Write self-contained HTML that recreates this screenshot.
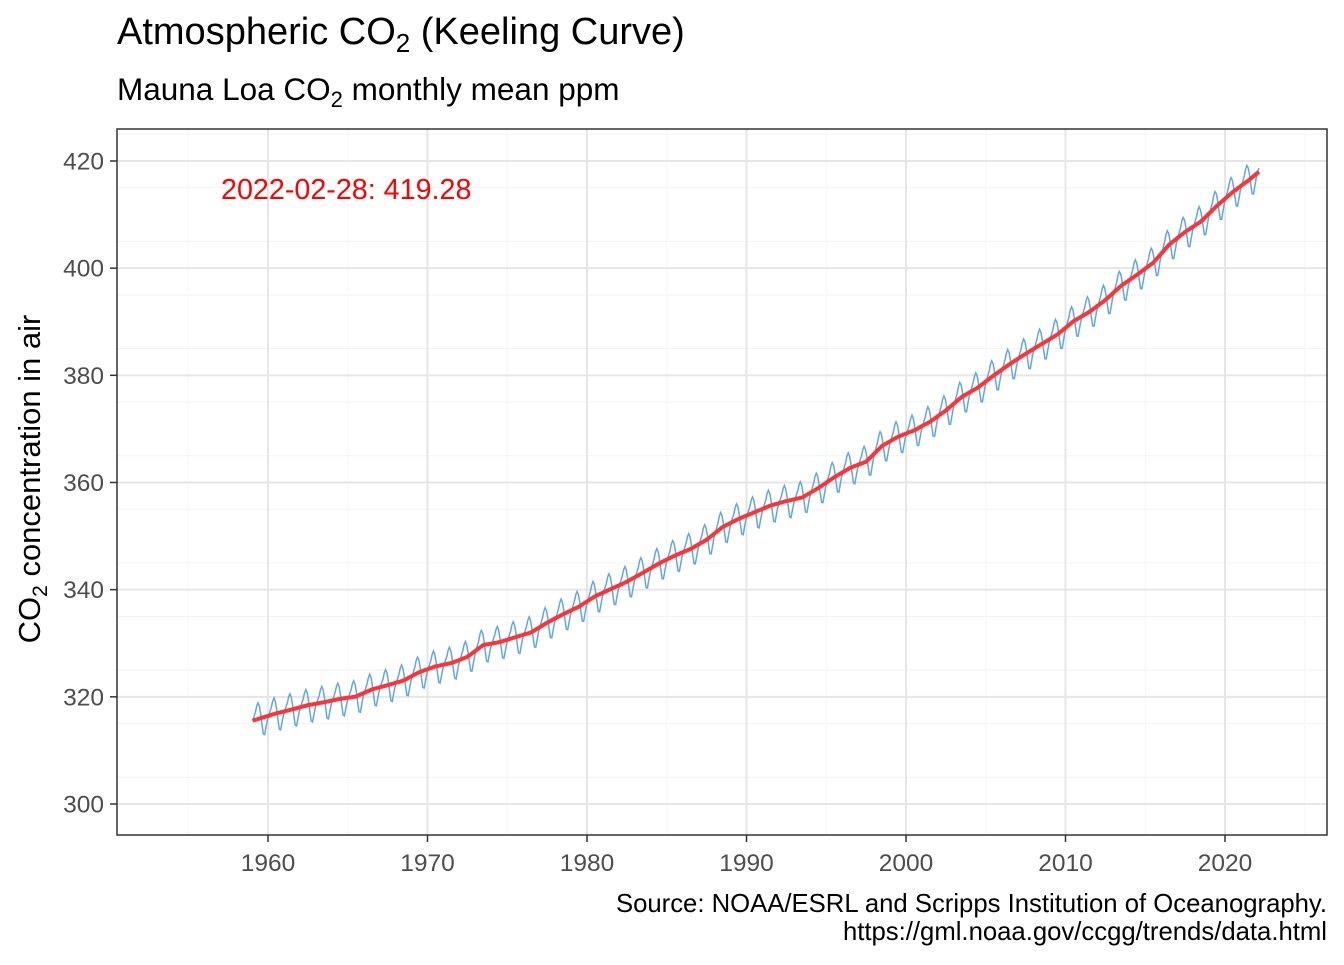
<!DOCTYPE html>
<html><head><meta charset="utf-8"><style>
body{margin:0;background:#fff;font-family:"Liberation Sans",Arial,sans-serif}
svg text{font-family:"Liberation Sans",Arial,sans-serif}
</style></head><body>
<svg id="c" width="1344" height="960" xmlns="http://www.w3.org/2000/svg">
<text x="117" y="44" font-size="38" fill="#000">Atmospheric CO<tspan font-size="26" dy="8">2</tspan><tspan dy="-8"> (Keeling Curve)</tspan></text>
<text x="117" y="100" font-size="31.5" fill="#000">Mauna Loa CO<tspan font-size="22" dy="7">2</tspan><tspan dy="-7"> monthly mean ppm</tspan></text>
<g id="grid"></g><g id="series"></g>
<rect x="117" y="129" width="1210" height="706" fill="none" stroke="#333" stroke-width="1.5"/>
<g id="axes"></g>
<text x="221" y="199" font-size="28.7" fill="#ff0000">2022-02-28: 419.28</text>
<text transform="translate(40,479) rotate(-90)" text-anchor="middle" font-size="31" fill="#000">CO<tspan font-size="21" dy="7">2</tspan><tspan dy="-7"> concentration in air</tspan></text>
<text x="1327" y="912" text-anchor="end" font-size="25.7" fill="#000">Source: NOAA/ESRL and Scripps Institution of Oceanography.</text>
<text x="1327" y="940" text-anchor="end" font-size="25.7" fill="#000">https://gml.noaa.gov/ccgg/trends/data.html</text>
</svg>
<script>
const years=[1959,1960,1961,1962,1963,1964,1965,1966,1967,1968,1969,1970,1971,1972,1973,1974,1975,1976,1977,1978,1979,1980,1981,1982,1983,1984,1985,1986,1987,1988,1989,1990,1991,1992,1993,1994,1995,1996,1997,1998,1999,2000,2001,2002,2003,2004,2005,2006,2007,2008,2009,2010,2011,2012,2013,2014,2015,2016,2017,2018,2019,2020,2021,2022];
const annualMeans=[315.98,316.91,317.64,318.45,318.99,319.62,320.04,321.37,322.18,323.05,324.62,325.68,326.32,327.46,329.68,330.19,331.12,332.03,333.84,335.41,336.84,338.76,340.12,341.48,343.15,344.87,346.35,347.61,349.31,351.69,353.20,354.45,355.70,356.54,357.21,358.96,360.97,362.74,363.88,366.84,368.54,369.71,371.32,373.45,375.98,377.70,379.98,382.09,384.02,385.83,387.64,390.10,391.85,394.06,396.74,398.81,401.01,404.41,406.76,408.72,411.66,414.24,416.45,418.9];
const seasonalOffsets=[0.0,0.7,1.4,2.5,3.0,2.3,0.8,-1.3,-3.1,-3.3,-2.0,-0.8];
const xTicks=[1960,1970,1980,1990,2000,2010,2020];
const yTicks=[300,320,340,360,380,400,420];
const NS="http://www.w3.org/2000/svg";
const X=t=>268+(t-1960)*(1225-268)/60;
const Y=v=>804-(v-300)*(804-161)/120;
function mk(tag,attrs,parent){const e=document.createElementNS(NS,tag);for(const k in attrs)e.setAttribute(k,attrs[k]);document.getElementById(parent).appendChild(e);return e;}
for(let m=305;m<=425;m+=10){if(m%20===0)continue;const e=mk('line',{x1:117,x2:1327,y1:Y(m),y2:Y(m),stroke:'#f2f2f2','stroke-width':1},'grid');

}
for(let m=1955;m<=2025;m+=10){const e=mk('line',{x1:X(m),x2:X(m),y1:129,y2:835,stroke:'#f5f5f5','stroke-width':1},'grid');

}
yTicks.forEach(v=>{const e=mk('line',{x1:117,x2:1327,y1:Y(v),y2:Y(v),stroke:'#e6e6e6','stroke-width':2},'grid');


const t=mk('line',{x1:110,x2:117,y1:Y(v),y2:Y(v),stroke:'#333','stroke-width':1.5},'axes');


const l=mk('text',{x:104,y:Y(v)+8.5,'text-anchor':'end','font-size':24.5,fill:'#4d4d4d'},'axes');l.textContent=v;

});
xTicks.forEach(v=>{const e=mk('line',{x1:X(v),x2:X(v),y1:129,y2:835,stroke:'#e6e6e6','stroke-width':2},'grid');


const t=mk('line',{x1:X(v),x2:X(v),y1:835,y2:842,stroke:'#333','stroke-width':1.5},'axes');


const l=mk('text',{x:X(v),y:871,'text-anchor':'middle','font-size':24.5,fill:'#4d4d4d'},'axes');l.textContent=v;

});
function trend(t){const c=t-0.5;const i0=Math.max(0,Math.min(years.length-2,Math.floor(c-years[0])));const f=(c-years[i0]);return annualMeans[i0]+(annualMeans[i0+1]-annualMeans[i0])*f;}
let pb=[],pr=[];
for(let y=1959;y<=2022;y++)for(let m=0;m<12;m++){if(y===2022&&m>1)break;const t=y+(m+0.5)/12;const tr=trend(t);
pb.push(X(t).toFixed(1)+','+Y(tr+seasonalOffsets[m]).toFixed(1));pr.push(X(t).toFixed(1)+','+Y(tr).toFixed(1));}
const b=mk('polyline',{points:pb.join(' '),fill:'none',stroke:'#5ea6ee','stroke-width':1.5},'series');


const r=mk('polyline',{points:pr.join(' '),fill:'none',stroke:'#ff3333','stroke-width':4,'stroke-linejoin':'round'},'series');


</script>
</body></html>
